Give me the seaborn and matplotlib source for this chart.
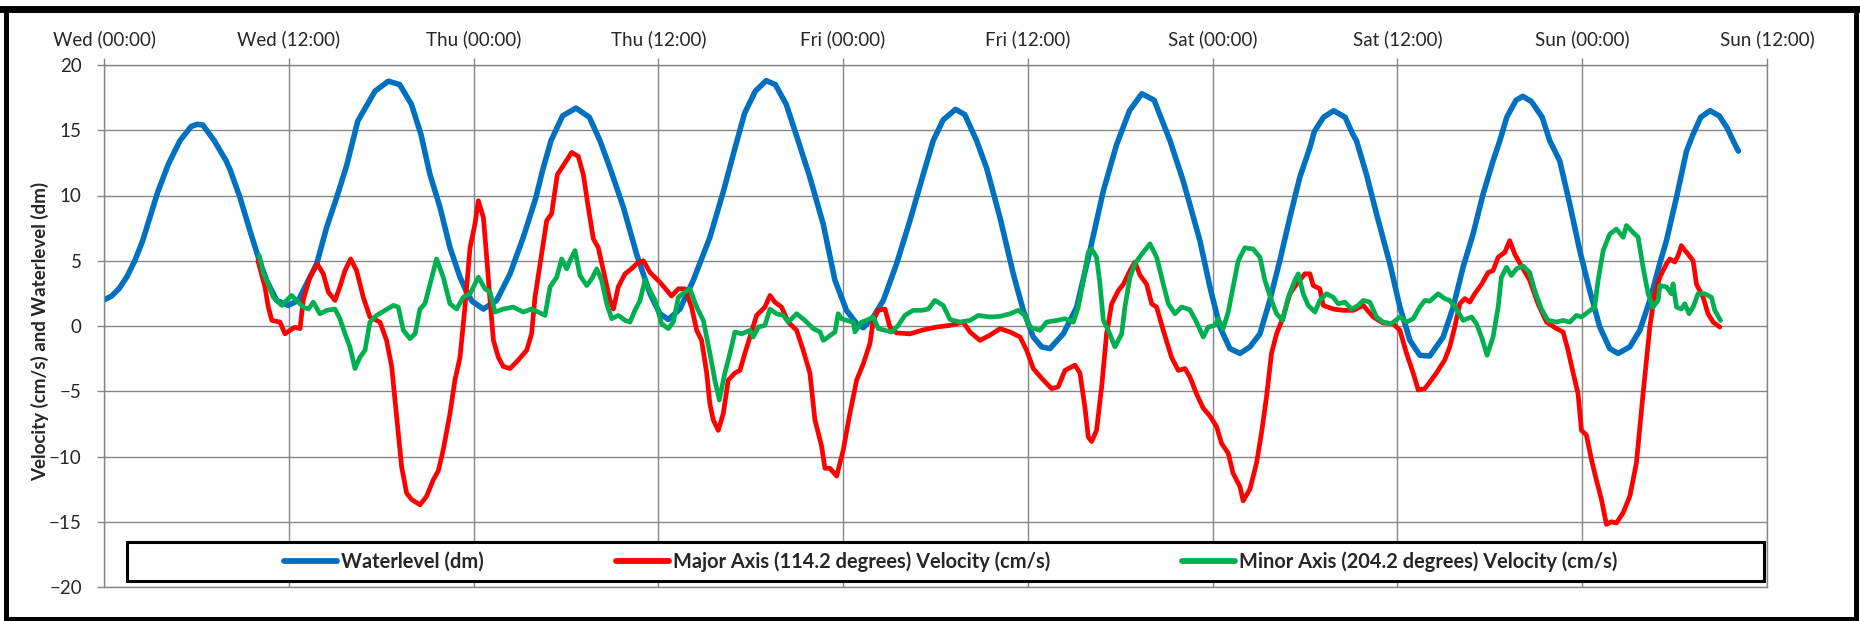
import matplotlib
matplotlib.use("Agg")
import matplotlib.pyplot as plt
import seaborn as sns
from matplotlib.patches import Rectangle
from matplotlib.lines import Line2D

# hours since Wed 00:00
tick_hours = [0, 12, 24, 36, 48, 60, 72, 84, 96, 108]
tick_labels = ["Wed (00:00)", "Wed (12:00)", "Thu (00:00)", "Thu (12:00)", "Fri (00:00)",
               "Fri (12:00)", "Sat (00:00)", "Sat (12:00)", "Sun (00:00)", "Sun (12:00)"]
y_ticks = [-20, -15, -10, -5, 0, 5, 10, 15, 20]

series_names = ["Waterlevel (dm)",
                "Major Axis (114.2 degrees) Velocity (cm/s)",
                "Minor Axis (204.2 degrees) Velocity (cm/s)"]

wl_hours = [0, 0.5, 1.0, 1.5, 2.0, 2.5, 3.0, 3.5, 4.18, 4.93, 5.67, 6.05, 6.42, 7.16, 7.91, 8.18,
            8.83, 9.48, 10.02, 10.56, 11.21, 11.97, 12.62, 13.27, 13.81, 14.46, 15.11, 15.76,
            16.48, 17.6, 18.47, 19.2, 19.96, 20.58, 21.17, 21.82, 22.47, 23.12, 23.55, 23.9,
            24.64, 25.5, 26.37, 27.23, 28.04, 28.5, 29.03, 29.78, 30.65, 31.52, 32.21, 32.86,
            33.73, 34.59, 35.46, 36.1, 36.65, 37.4, 38.27, 38.92, 39.35, 40.22, 40.97, 41.6,
            42.3, 43.0, 43.6, 44.3, 45.08, 45.84, 46.71, 47.47, 48.22, 48.88, 49.31, 49.96,
            50.61, 51.47, 52.34, 53.2, 53.85, 54.5, 55.3, 55.9, 56.67, 57.32, 58.19, 59.05,
            59.7, 60.35, 60.89, 61.43, 62.3, 63.17, 64.03, 64.9, 65.76, 66.6, 67.4, 68.2,
            69.23, 70.09, 70.52, 71.17, 71.82, 72.47, 73.12, 73.77, 74.42, 75.07, 75.71, 76.36,
            77.01, 77.66, 78.31, 78.6, 79.2, 79.86, 80.6, 81.1, 81.34, 81.99, 82.64, 83.51,
            84.16, 84.81, 85.45, 86.1, 86.97, 87.62, 88.26, 88.91, 89.56, 90.21, 90.65, 91.1,
            91.7, 92.14, 92.7, 93.4, 93.89, 94.54, 95.19, 95.84, 96.49, 97.14, 97.79, 98.33,
            99.09, 99.74, 100.39, 101.03, 101.47, 102.12, 102.77, 103.2, 103.7, 104.3, 104.9,
            105.4, 105.8, 106.14]
wl_values = [2.0, 2.3, 2.9, 3.8, 5.0, 6.5, 8.4, 10.3, 12.4, 14.2, 15.3, 15.45, 15.4, 14.2, 12.7, 12.0,
             9.85, 7.3, 5.27, 3.5, 1.96, 1.58, 1.96, 3.5, 4.76, 7.56, 9.85, 12.3,
             15.7, 18.0, 18.76, 18.5, 17.0, 14.7, 11.6, 9.1, 6.0, 3.74, 2.6, 1.9,
             1.3, 1.96, 4.0, 6.8, 9.8, 12.0, 14.2, 16.1, 16.7, 16.0, 14.2, 12.1,
             9.1, 5.5, 2.47, 0.94, 0.5, 1.3, 3.5, 5.5, 6.8, 10.3, 13.6, 16.3,
             18.0, 18.8, 18.5, 17.0, 14.2, 11.4, 7.8, 3.5, 1.2, 0.18, -0.13, 0.69,
             1.96, 4.76, 8.07, 11.6, 14.2, 15.8, 16.6, 16.2, 14.2, 12.1, 8.3, 4.0,
             1.2, -0.84, -1.6, -1.73, -0.6, 1.45, 5.78, 10.36, 13.9, 16.5, 17.8, 17.3,
             14.2, 11.1, 9.3, 6.54, 3.0, -0.08, -1.73, -2.1, -1.6, -0.6, 1.96, 5.0,
             8.3, 11.4, 13.66, 14.9, 16.0, 16.5, 16.0, 14.7, 14.2, 11.6, 8.6, 4.76,
             1.45, -1.1, -2.24, -2.3, -0.84, 1.45, 4.5, 7.05, 10.1, 12.65, 14.2, 16.0,
             17.3, 17.6, 17.2, 16.0, 14.2, 12.65, 9.34, 5.78, 2.7, -0.08, -1.73, -2.1,
             -1.6, -0.33, 1.96, 4.76, 6.54, 9.85, 13.4, 14.7, 16.0, 16.5, 16.1,
             15.2, 14.2, 13.4]

major_hours = [10.0, 10.45, 10.67, 10.9, 11.43, 11.75, 12.08, 12.4, 12.73, 12.94, 13.37, 13.85,
               14.24, 14.57, 15.0, 15.32, 15.65, 16.02, 16.4, 16.84, 17.27, 17.92, 18.35, 18.68,
               19.0, 19.33, 19.65, 19.98, 20.52, 20.95, 21.38, 21.71, 22.03, 22.47, 22.79, 23.12,
               23.44, 23.77, 24.09, 24.31, 24.64, 24.85, 25.07, 25.29, 25.61, 25.93, 26.37, 26.91,
               27.45, 27.77, 27.99, 28.32, 28.75, 29.07, 29.44, 29.83, 30.37, 30.8, 31.13, 31.45,
               31.78, 32.1, 32.43, 32.86, 33.08, 33.4, 33.84, 34.27, 34.59, 35.03, 35.46, 36.1,
               36.86, 37.3, 37.73, 38.16, 38.49, 38.81, 39.14, 39.35, 39.57, 39.89, 40.22, 40.54,
               40.97, 41.3, 41.62, 41.95, 42.38, 42.92, 43.25, 43.57, 44.0, 44.44, 44.98, 45.41,
               45.84, 46.17, 46.6, 46.82, 47.14, 47.58, 48.01, 48.44, 48.88, 49.31, 49.74, 49.96,
               50.28, 50.72, 51.04, 51.47, 52.34, 53.2, 54.07, 54.94, 55.8, 56.24, 56.89, 57.54,
               58.19, 58.84, 59.49, 59.92, 60.35, 60.89, 61.54, 61.97, 62.41, 63.06, 63.38, 63.7,
               63.92, 64.14, 64.46, 64.79, 65.11, 65.44, 65.87, 66.2, 66.63, 66.95, 67.28, 67.71,
               68.04, 68.36, 68.79, 69.33, 69.77, 70.2, 70.52, 70.95, 71.39, 71.82, 72.25, 72.58,
               73.01, 73.33, 73.77, 73.98, 74.42, 74.85, 75.17, 75.5, 75.82, 76.15, 76.58, 77.01,
               77.45, 77.99, 78.31, 78.53, 78.96, 79.18, 79.83, 80.48, 81.13, 81.78, 82.42, 83.07,
               83.72, 84.16, 84.59, 85.02, 85.35, 85.78, 86.1, 86.53, 87.07, 87.4, 87.72, 88.05,
               88.37, 88.7, 89.02, 89.46, 89.89, 90.21, 90.54, 90.97, 91.29, 91.62, 92.05, 92.59,
               93.13, 93.68, 94.33, 94.76, 95.08, 95.41, 95.73, 95.95, 96.27, 96.6, 96.92, 97.25,
               97.57, 97.9, 98.22, 98.66, 99.09, 99.52, 99.95, 100.39, 100.71, 101.04, 101.47, 101.69,
               102.01, 102.23, 102.44, 102.66, 102.88, 103.2, 103.42, 103.85, 104.17, 104.5, 104.93]
major_values = [5.0, 3.0, 1.45, 0.43, 0.3, -0.6, -0.33, -0.1, -0.2, 2.0, 3.74, 4.76,
                4.0, 2.6, 1.96, 3.0, 4.25, 5.14, 4.25, 2.2, 0.69, 0.3, -1.1, -3.1,
                -6.9, -10.8, -12.8, -13.3, -13.7, -13.05, -11.8, -11.1, -9.5, -6.7, -4.15, -2.4,
                1.45, 6.0, 7.8, 9.6, 8.3, 5.3, 1.96, -1.1, -2.4, -3.1, -3.26, -2.6,
                -1.86, -0.6, 2.2, 4.76, 8.07, 8.6, 11.6, 12.3, 13.3, 13.0, 11.6, 9.1,
                6.67, 6.0, 4.25, 1.96, 1.3, 3.0, 4.0, 4.4, 4.76, 5.0, 4.1, 3.36,
                2.3, 2.85, 2.85, 1.45, -0.33, -1.1, -3.6, -6.0, -7.2, -8.0, -6.7, -4.15,
                -3.6, -3.4, -2.1, -0.84, 0.81, 1.45, 2.34, 1.83, 1.45, 0.3, -0.33, -1.86,
                -3.6, -7.2, -9.2, -10.9, -10.9, -11.5, -9.5, -6.7, -4.15, -2.9, -1.35, 0.43,
                1.2, 1.3, -0.08, -0.53, -0.6, -0.3, -0.08, 0.05, 0.3, -0.46, -1.1, -0.7,
                -0.2, -0.46, -0.84, -1.86, -3.26, -4.0, -4.8, -4.66, -3.4, -3.0, -3.6, -6.2,
                -8.5, -8.85, -8.0, -4.66, -0.6, 1.7, 2.7, 3.2, 4.25, 4.9, 3.9, 3.2,
                1.7, 1.45, -0.33, -2.4, -3.4, -3.26, -3.9, -5.2, -6.3, -6.9, -7.7, -9.0,
                -9.75, -11.3, -12.3, -13.4, -12.5, -10.5, -8.2, -5.4, -2.1, -0.6, 0.69, 2.47,
                3.2, 4.0, 4.0, 3.1, 2.85, 1.58, 1.3, 1.2, 1.2, 1.58, 0.69, 0.23,
                0.18, -0.33, -2.1, -3.6, -4.9, -4.8, -4.3, -3.6, -2.6, -1.6, -0.08, 1.7,
                2.1, 1.83, 2.47, 3.2, 4.1, 4.25, 5.27, 5.65, 6.54, 5.5, 4.6, 3.5,
                1.7, 0.3, -0.2, -0.46, -1.86, -3.6, -5.2, -8.0, -8.35, -10.25, -11.8, -13.3,
                -15.2, -15.0, -15.1, -14.3, -13.05, -10.5, -5.2, -0.08, 2.47, 3.74, 4.76, 5.14,
                4.9, 5.4, 6.16, 5.8, 5.5, 5.0, 3.2, 2.2, 0.94, 0.3, -0.08]

minor_hours = [10.08, 10.35, 10.67, 11.0, 11.54, 11.86, 12.18, 12.51, 12.94, 13.27, 13.59, 14.02,
               14.46, 15.0, 15.32, 15.65, 15.97, 16.3, 16.62, 16.95, 17.27, 17.7, 18.25, 18.79,
               19.11, 19.44, 19.87, 20.2, 20.52, 20.84, 21.17, 21.6, 22.03, 22.47, 22.9, 23.33,
               23.77, 24.31, 24.74, 25.07, 25.39, 25.93, 26.58, 27.23, 27.77, 28.21, 28.64, 28.97,
               29.4, 29.72, 30.05, 30.26, 30.59, 30.91, 31.35, 31.67, 32.0, 32.32, 32.65, 32.97,
               33.4, 33.84, 34.16, 34.48, 34.81, 35.13, 35.46, 35.79, 36.21, 36.65, 36.97, 37.3,
               37.73, 38.05, 38.49, 38.92, 39.35, 39.67, 39.96, 40.32, 40.65, 40.97, 41.41, 41.95,
               42.16, 42.49, 42.92, 43.25, 43.68, 44.11, 44.44, 44.98, 45.52, 46.06, 46.5, 46.71,
               47.03, 47.47, 47.68, 47.9, 48.22, 48.66, 48.77, 49.2, 49.52, 49.96, 50.28, 50.72,
               51.15, 51.58, 52.01, 52.55, 53.1, 53.53, 53.96, 54.5, 54.94, 55.59, 56.24, 56.78,
               57.54, 58.19, 58.84, 59.38, 59.81, 60.13, 60.78, 61.22, 61.87, 62.41, 62.95, 63.27,
               63.6, 63.92, 64.14, 64.46, 64.68, 64.9, 65.22, 65.65, 66.09, 66.3, 66.63, 66.95,
               67.39, 67.93, 68.36, 68.79, 69.12, 69.55, 69.98, 70.52, 70.95, 71.39, 71.71, 72.14,
               72.36, 72.68, 73.01, 73.33, 73.66, 74.09, 74.63, 75.07, 75.39, 75.82, 76.15, 76.54,
               76.91, 77.34, 77.56, 77.88, 78.2, 78.64, 78.96, 79.39, 79.83, 80.15, 80.58, 81.02,
               81.45, 81.78, 82.21, 82.64, 83.07, 83.61, 84.16, 84.59, 85.02, 85.45, 85.78, 86.1,
               86.64, 87.07, 87.4, 87.83, 88.26, 88.81, 89.13, 89.46, 89.82, 90.21, 90.54, 90.75,
               91.08, 91.4, 91.73, 92.16, 92.59, 92.92, 93.35, 93.78, 94.33, 94.76, 95.19, 95.62,
               95.95, 96.38, 96.81, 97.03, 97.36, 97.79, 98.22, 98.66, 98.87, 99.3, 99.63, 99.95,
               100.28, 100.6, 100.93, 101.04, 101.47, 101.79, 101.9, 102.12, 102.44, 102.66, 102.94, 103.2,
               103.52, 103.96, 104.39, 104.61, 104.98]
minor_values = [5.4, 4.0, 3.2, 2.2, 1.58, 1.96, 2.34, 1.96, 1.45, 1.3, 1.83, 0.94,
                1.2, 1.3, 0.56, -0.6, -1.6, -3.26, -2.4, -1.86, 0.3, 0.81, 1.2, 1.58,
                1.45, -0.33, -0.97, -0.6, 1.3, 1.7, 3.2, 5.14, 3.74, 1.7, 1.3, 2.2,
                2.47, 3.74, 2.85, 2.6, 1.07, 1.3, 1.45, 1.07, 1.3, 1.07, 0.81, 3.0,
                3.74, 5.14, 4.38, 5.0, 5.78, 3.87, 3.1, 3.6, 4.38, 3.5, 1.7, 0.56,
                0.81, 0.43, 0.3, 1.2, 1.96, 3.5, 2.7, 1.96, 0.18, -0.2, 0.3, 2.2,
                2.6, 2.85, 1.45, 0.43, -2.1, -4.15, -5.67, -3.6, -2.1, -0.46, -0.6, -0.33,
                -0.84, -0.08, 0.05, 1.3, 0.94, 0.81, 0.3, 0.94, 0.43, -0.2, -0.46, -1.1,
                -0.84, -0.46, 0.94, 0.56, 0.43, 0.3, -0.46, 0.3, 0.43, 0.69, -0.2, -0.33,
                -0.46, 0.05, 0.81, 1.2, 1.2, 1.3, 1.96, 1.58, 0.5, 0.3, 0.43, 0.81,
                0.69, 0.74, 0.94, 1.2, 0.81, -0.08, -0.33, 0.3, 0.43, 0.56, 0.3, 1.45,
                3.5, 5.65, 5.9, 5.27, 3.23, 0.43, -0.33, -1.6, -0.6, 1.45, 3.74, 4.76,
                5.5, 6.3, 5.27, 3.23, 1.7, 0.94, 1.45, 1.25, 0.3, -0.84, -0.08, 0.05,
                0.56, -0.2, 1.07, 3.0, 5.0, 6.0, 5.9, 5.27, 3.5, 1.96, 0.94, 0.43,
                2.2, 3.5, 4.0, 2.47, 1.58, 1.07, 1.96, 2.47, 2.2, 1.7, 1.83, 1.3,
                1.58, 1.96, 1.83, 0.69, 0.3, 0.18, 0.69, 0.3, 0.56, 1.45, 1.96, 1.9,
                2.47, 2.1, 1.96, 1.3, 0.43, 0.69, 0.18, -0.84, -2.24, -0.84, 1.45, 3.74,
                4.5, 3.87, 4.38, 4.6, 4.1, 2.7, 1.3, 0.43, 0.3, 0.43, 0.3, 0.81,
                0.69, 1.07, 1.45, 3.5, 5.78, 7.05, 7.43, 6.8, 7.7, 7.18, 6.8, 4.5,
                2.47, 1.45, 1.96, 3.1, 3.0, 2.47, 3.23, 1.45, 1.3, 1.7, 0.94, 1.45,
                2.47, 2.47, 2.2, 1.2, 0.43]

colors = ["#0070C0", "#FF0000", "#00B050"]

sns.set_style("white")
plt.rcParams["font.family"] = ["Lato", "DejaVu Sans"]

fig = plt.figure(figsize=(18.6, 6.21), dpi=100)
ax = fig.add_axes([104 / 1860, 1 - 587 / 621, 1663 / 1860, 522 / 621])

sns.lineplot(x=wl_hours, y=wl_values, color=colors[0], linewidth=4.0,
             label=series_names[0], ax=ax, solid_capstyle="round", solid_joinstyle="round")
sns.lineplot(x=major_hours, y=major_values, color=colors[1], linewidth=3.4,
             label=series_names[1], ax=ax, solid_capstyle="round", solid_joinstyle="round")
sns.lineplot(x=minor_hours, y=minor_values, color=colors[2], linewidth=3.4,
             label=series_names[2], ax=ax, solid_capstyle="round", solid_joinstyle="round")

ax.set_xlim(0, 108)
ax.set_ylim(-20, 20)
ax.set_xticks(tick_hours)
ax.set_xticklabels(tick_labels)
ax.set_yticks(y_ticks)
ax.set_xlabel("")
ax.grid(True, color="#868686", linewidth=1.0)
ax.set_axisbelow(True)
for sp in ax.spines.values():
    sp.set_visible(True)
    sp.set_color("#868686")
    sp.set_linewidth(1.0)

ax.tick_params(axis="x", top=True, bottom=False, labeltop=True, labelbottom=False,
               length=5, width=1, color="#868686", pad=7, labelsize=13.5)
ax.tick_params(axis="y", left=True, length=5, width=1, color="#868686", pad=11, labelsize=13.5)

ax.set_ylabel("Velocity (cm/s) and Waterlevel (dm)", fontsize=13.5, fontweight="bold")
ax.yaxis.set_label_coords(-0.033, 0.49)

# legend box drawn over the grid
ax.add_patch(Rectangle((0.0138, 0.0115), 0.9842, 0.0747, transform=ax.transAxes,
                       facecolor="white", edgecolor="black", linewidth=2.2, zorder=5))
leg = ax.legend(loc="center", bbox_to_anchor=(0.509, 0.049), ncol=3, frameon=False,
                prop={"weight": "bold", "size": 14.4}, handlelength=2.65,
                handletextpad=0.2, columnspacing=6.6)
leg.set_zorder(6)
for h in leg.get_lines():
    h.set_linewidth(4.2)

# outer frame of the picture
fig.add_artist(Rectangle((6 / 1860, 2 / 621), (1855.5 - 6) / 1860, (612 - 2) / 621,
                         transform=fig.transFigure, fill=False, edgecolor="black", linewidth=3.6))
fig.add_artist(Line2D([0.0, 1.0], [1 - 8.5 / 621] * 2, transform=fig.transFigure,
                      color="black", linewidth=5))

fig.savefig("out.png", dpi=100)
